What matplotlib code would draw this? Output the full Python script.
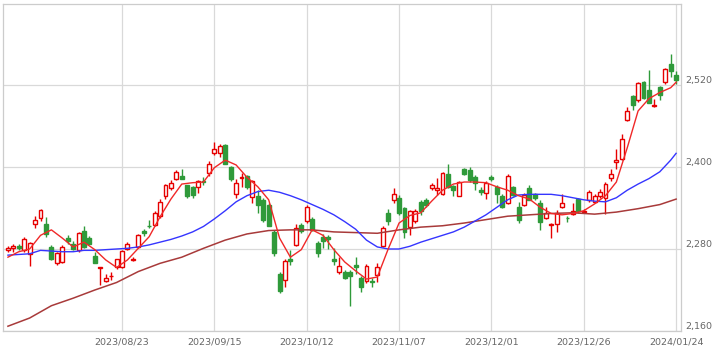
import matplotlib.pyplot as plt
import numpy as np

# daily candles (index), 2023/07/24 .. 2024/01/24
opens = [2278, 2282, 2285, 2278, 2273, 2316, 2326, 2317, 2283, 2260,
         2261, 2296, 2288, 2278, 2306, 2296, 2270, 2252, 2233, 2240,
         2253, 2254, 2280, 2264, 2283, 2306, 2314, 2315, 2328, 2357,
         2369, 2383, 2387, 2373, 2370, 2370, 2380, 2391, 2420, 2420,
         2432, 2400, 2360, 2384, 2387, 2356, 2358, 2352, 2344, 2305,
         2244, 2235, 2265, 2286, 2315, 2321, 2324, 2289, 2298, 2297,
         2265, 2247, 2247, 2247, 2257, 2238, 2233, 2233, 2242, 2285,
         2332, 2351, 2354, 2340, 2312, 2321, 2349, 2352, 2369, 2367,
         2360, 2390, 2372, 2358, 2397, 2396, 2386, 2366, 2362, 2385,
         2371, 2358, 2348, 2370, 2342, 2344, 2369, 2360, 2347, 2325,
         2315, 2317, 2341, 2326, 2331, 2353, 2334, 2351, 2349, 2357,
         2355, 2384, 2408, 2412, 2469, 2504, 2498, 2524, 2512, 2489,
         2517, 2524, 2550, 2534]
highs = [2284, 2287, 2287, 2297, 2290, 2329, 2339, 2327, 2286, 2276,
         2286, 2300, 2291, 2305, 2313, 2299, 2275, 2254, 2243, 2247,
         2266, 2279, 2290, 2269, 2302, 2309, 2322, 2335, 2353, 2375,
         2381, 2396, 2397, 2374, 2372, 2381, 2385, 2409, 2437, 2433,
         2434, 2401, 2382, 2391, 2388, 2381, 2366, 2354, 2347, 2308,
         2247, 2265, 2279, 2317, 2318, 2344, 2327, 2291, 2302, 2301,
         2281, 2268, 2249, 2249, 2269, 2240, 2258, 2237, 2259, 2313,
         2338, 2369, 2359, 2342, 2337, 2338, 2352, 2354, 2376, 2384,
         2392, 2404, 2374, 2380, 2399, 2400, 2388, 2370, 2379, 2388,
         2373, 2360, 2390, 2372, 2349, 2362, 2374, 2362, 2351, 2342,
         2318, 2337, 2361, 2328, 2347, 2354, 2338, 2367, 2360, 2368,
         2378, 2397, 2426, 2448, 2488, 2506, 2525, 2526, 2542, 2499,
         2519, 2545, 2565, 2541]
lows = [2276, 2276, 2278, 2276, 2255, 2311, 2321, 2297, 2264, 2257,
        2259, 2287, 2278, 2275, 2281, 2287, 2259, 2227, 2231, 2235,
        2251, 2252, 2278, 2262, 2282, 2299, 2310, 2313, 2326, 2353,
        2366, 2381, 2382, 2354, 2355, 2362, 2374, 2387, 2418, 2415,
        2404, 2380, 2354, 2371, 2368, 2347, 2332, 2320, 2313, 2270,
        2215, 2225, 2257, 2284, 2304, 2318, 2306, 2268, 2281, 2280,
        2257, 2243, 2236, 2197, 2244, 2217, 2230, 2225, 2232, 2283,
        2315, 2347, 2330, 2296, 2301, 2318, 2330, 2342, 2366, 2359,
        2359, 2369, 2357, 2357, 2388, 2378, 2367, 2359, 2353, 2379,
        2347, 2340, 2346, 2357, 2318, 2343, 2351, 2352, 2308, 2324,
        2296, 2305, 2340, 2320, 2330, 2332, 2333, 2349, 2348, 2355,
        2331, 2379, 2397, 2410, 2468, 2483, 2495, 2499, 2493, 2488,
        2498, 2522, 2532, 2522]
closes = [2281, 2285, 2282, 2294, 2289, 2322, 2337, 2302, 2266, 2274,
          2283, 2291, 2280, 2303, 2283, 2288, 2260, 2253, 2238, 2241,
          2265, 2277, 2287, 2266, 2300, 2303, 2313, 2332, 2349, 2373,
          2377, 2392, 2383, 2358, 2359, 2379, 2378, 2405, 2427, 2431,
          2405, 2382, 2377, 2385, 2371, 2380, 2344, 2322, 2314, 2274,
          2218, 2263, 2263, 2311, 2307, 2342, 2308, 2274, 2291, 2295,
          2263, 2255, 2238, 2240, 2254, 2224, 2255, 2231, 2253, 2310,
          2321, 2360, 2332, 2305, 2335, 2336, 2336, 2344, 2374, 2369,
          2391, 2371, 2366, 2378, 2390, 2381, 2376, 2364, 2376, 2382,
          2360, 2342, 2387, 2359, 2322, 2359, 2352, 2354, 2320, 2332,
          2317, 2333, 2348, 2325, 2336, 2335, 2336, 2363, 2358, 2363,
          2375, 2390, 2410, 2441, 2482, 2491, 2523, 2501, 2494, 2491,
          2506, 2544, 2540, 2527]

# moving averages (short / medium / long)
ma_short_idx = list(range(0, 124, 2)) + [123]
ma_short = [2268, 2276, 2280, 2300, 2308, 2296, 2283, 2290, 2279, 2264,
            2253, 2264, 2281, 2298, 2327, 2353, 2375, 2377, 2378, 2399,
            2410, 2403, 2385, 2371, 2352, 2296, 2268, 2279, 2308, 2300,
            2279, 2261, 2248, 2236, 2239, 2280, 2318, 2329, 2333, 2350,
            2366, 2375, 2378, 2378, 2377, 2371, 2366, 2358, 2353, 2341,
            2332, 2330, 2332, 2336, 2346, 2358, 2378, 2428, 2482, 2500,
            2509, 2516, 2524]
ma_mid_idx = list(range(0, 124, 2)) + [123]
ma_mid = [2271, 2272, 2273, 2278, 2277, 2276, 2276, 2278, 2278, 2279,
          2280, 2281, 2283, 2286, 2290, 2294, 2299, 2305, 2313, 2324,
          2336, 2349, 2358, 2364, 2366, 2363, 2358, 2352, 2345, 2338,
          2330, 2320, 2309, 2293, 2283, 2280, 2280, 2284, 2290, 2295,
          2300, 2305, 2312, 2321, 2330, 2341, 2352, 2359, 2360, 2360,
          2360, 2358, 2355, 2352, 2350, 2349, 2355, 2366, 2375, 2383,
          2393, 2410, 2420]
ma_long_idx = list(range(0, 124, 4)) + [123]
ma_long = [2167, 2179, 2197, 2208, 2220, 2231, 2247, 2259, 2268, 2281,
           2293, 2302, 2307, 2308, 2308, 2305, 2304, 2303, 2308, 2312,
           2314, 2318, 2323, 2328, 2330, 2332, 2333, 2331, 2334, 2339,
           2345, 2353]

date_ticks = [21, 38, 55, 72, 89, 106, 123]
date_labels = ['2023/08/23', '2023/09/15', '2023/10/12', '2023/11/07',
               '2023/12/01', '2023/12/26', '2024/01/24']
price_ticks = [2160, 2280, 2400, 2520]

red = '#e60000'
green = '#2f9a3a'

fig = plt.figure(figsize=(7.2, 3.51), dpi=100)
ax = fig.add_axes([2.5 / 720, 20 / 351, 678.5 / 720, 327 / 351])

x = np.arange(len(opens))
o = np.array(opens)
c = np.array(closes)
up = c >= o
lo = np.minimum(o, c)
h = np.maximum(np.abs(c - o), 0.8)

ax.vlines(x, lows, highs, colors=np.where(up, red, green), lw=1, zorder=2)
ax.bar(x[up], h[up], bottom=lo[up], width=0.72, facecolor='white',
       edgecolor=red, lw=1, zorder=3)
ax.bar(x[~up], h[~up], bottom=lo[~up], width=0.72, facecolor=green,
       edgecolor=green, lw=1, zorder=3)

ax.plot(ma_long_idx, ma_long, color='#a83a3a', lw=1.1, zorder=4)
ax.plot(ma_mid_idx, ma_mid, color='#3535ff', lw=1.0, zorder=4)
ax.plot(ma_short_idx, ma_short, color='#f02828', lw=1.0, zorder=5)

ax.set_xlim(-1.0, 123.9)
ax.set_ylim(2160, 2638.5)

ax.set_xticks(date_ticks)
ax.set_xticklabels(date_labels)
ax.set_yticks(price_ticks)
ax.set_yticklabels([f'{p:,}' for p in price_ticks])
ax.yaxis.tick_right()
ax.tick_params(axis='both', length=0, labelsize=6.8, labelcolor='#666666')
ax.tick_params(axis='x', pad=5)
ax.tick_params(axis='y', pad=3)
for lbl in ax.get_yticklabels():
    lbl.set_va('bottom')

ax.grid(True, color='#d9d9d9', lw=0.9, zorder=0)
ax.set_axisbelow(True)
for s in ax.spines.values():
    s.set_color('#cccccc')
    s.set_linewidth(0.9)

fig.savefig('out.png', dpi=100)
